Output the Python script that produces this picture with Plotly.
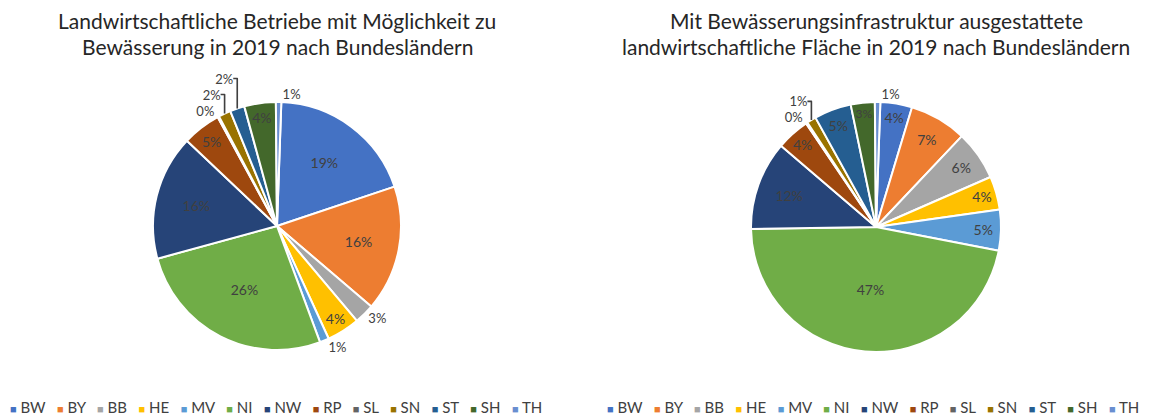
import plotly.graph_objects as go

labels = ["BW", "BY", "BB", "HE", "MV", "NI", "NW", "RP", "SL", "SN", "ST", "SH", "TH"]
colors = ["#4472C4", "#ED7D31", "#A5A5A5", "#FFC000", "#5B9BD5", "#70AD47", "#264478",
          "#9E480E", "#636363", "#997300", "#255E91", "#43682B", "#698ED0"]

# Share (%) of farms with irrigation possibility, 2019
betriebe = [19.3, 16.4, 2.6, 4.3, 1.2, 26.4, 16.3, 5.0, 0.2, 1.6, 1.9, 4.1, 0.7]
betriebe_pos = ["inside", "inside", "outside", "inside", "outside", "inside", "inside",
                "inside", "outside", "outside", "outside", "inside", "outside"]

# Share (%) of agricultural area equipped with irrigation infrastructure, 2019
flaeche = [4.1, 7.4, 6.4, 4.3, 5.3, 46.7, 11.5, 4.3, 0.2, 1.2, 4.8, 3.1, 0.7]
flaeche_pos = ["inside", "inside", "inside", "inside", "inside", "inside", "inside",
               "inside", "outside", "outside", "inside", "inside", "outside"]

title_left = ["Landwirtschaftliche Betriebe mit Möglichkeit zu",
              "Bewässerung in 2019 nach Bundesländern"]
title_right = ["Mit Bewässerungsinfrastruktur ausgestattete",
               "landwirtschaftliche Fläche in 2019 nach Bundesländern"]

# page has an 8px body margin: the figure starts at (8, 8) in the window
OFF = 8
W, H = 1153 - OFF, 418 - OFF
FONT = "Lato"
TXT = "#404040"


def px(x):
    return (x - OFF) / W


def py(y):
    return 1 - (y - OFF) / H


def pie(values, pos, dx, dy):
    return go.Pie(
        labels=labels, values=values, sort=False, direction="clockwise", rotation=2,
        marker=dict(colors=colors, line=dict(color="white", width=2)),
        textposition=pos, texttemplate="%{percent:.0%}",
        insidetextorientation="horizontal",
        textfont=dict(family=FONT, size=14, color=TXT),
        outsidetextfont=dict(family=FONT, size=13, color=TXT),
        domain=dict(x=dx, y=dy), showlegend=False, hoverinfo="label+value",
    )


fig = go.Figure()
fig.add_trace(pie(betriebe, betriebe_pos, [px(153), px(401)], [py(350), py(102)]))
fig.add_trace(pie(flaeche, flaeche_pos, [px(751), px(1001)], [py(352), py(102)]))

annotations = []
for cx, lines in [(277, title_left), (876, title_right)]:
    for i, line in enumerate(lines):
        annotations.append(dict(
            text=line, x=px(cx), y=py(20 + 27 * i), xref="paper", yref="paper",
            xanchor="center", yanchor="middle", showarrow=False,
            font=dict(family=FONT, size=21, color="#262626"),
        ))


def legend_text():
    parts = []
    for lab, col in zip(labels, colors):
        parts.append(f"<span style='color:{col};font-size:11px'>■</span> {lab}")
    return "&nbsp;&nbsp;&nbsp;".join(parts)


for x0 in [8, 605]:
    annotations.append(dict(
        text=legend_text(), x=px(x0), y=py(407), xref="paper", yref="paper",
        xanchor="left", yanchor="middle", showarrow=False,
        font=dict(family=FONT, size=15, color=TXT),
    ))

fig.update_layout(
    width=W, height=H, autosize=False,
    margin=dict(l=0, r=0, t=0, b=0),
    paper_bgcolor="white", plot_bgcolor="white",
    annotations=annotations,
)

fig.write_html("out.html")
